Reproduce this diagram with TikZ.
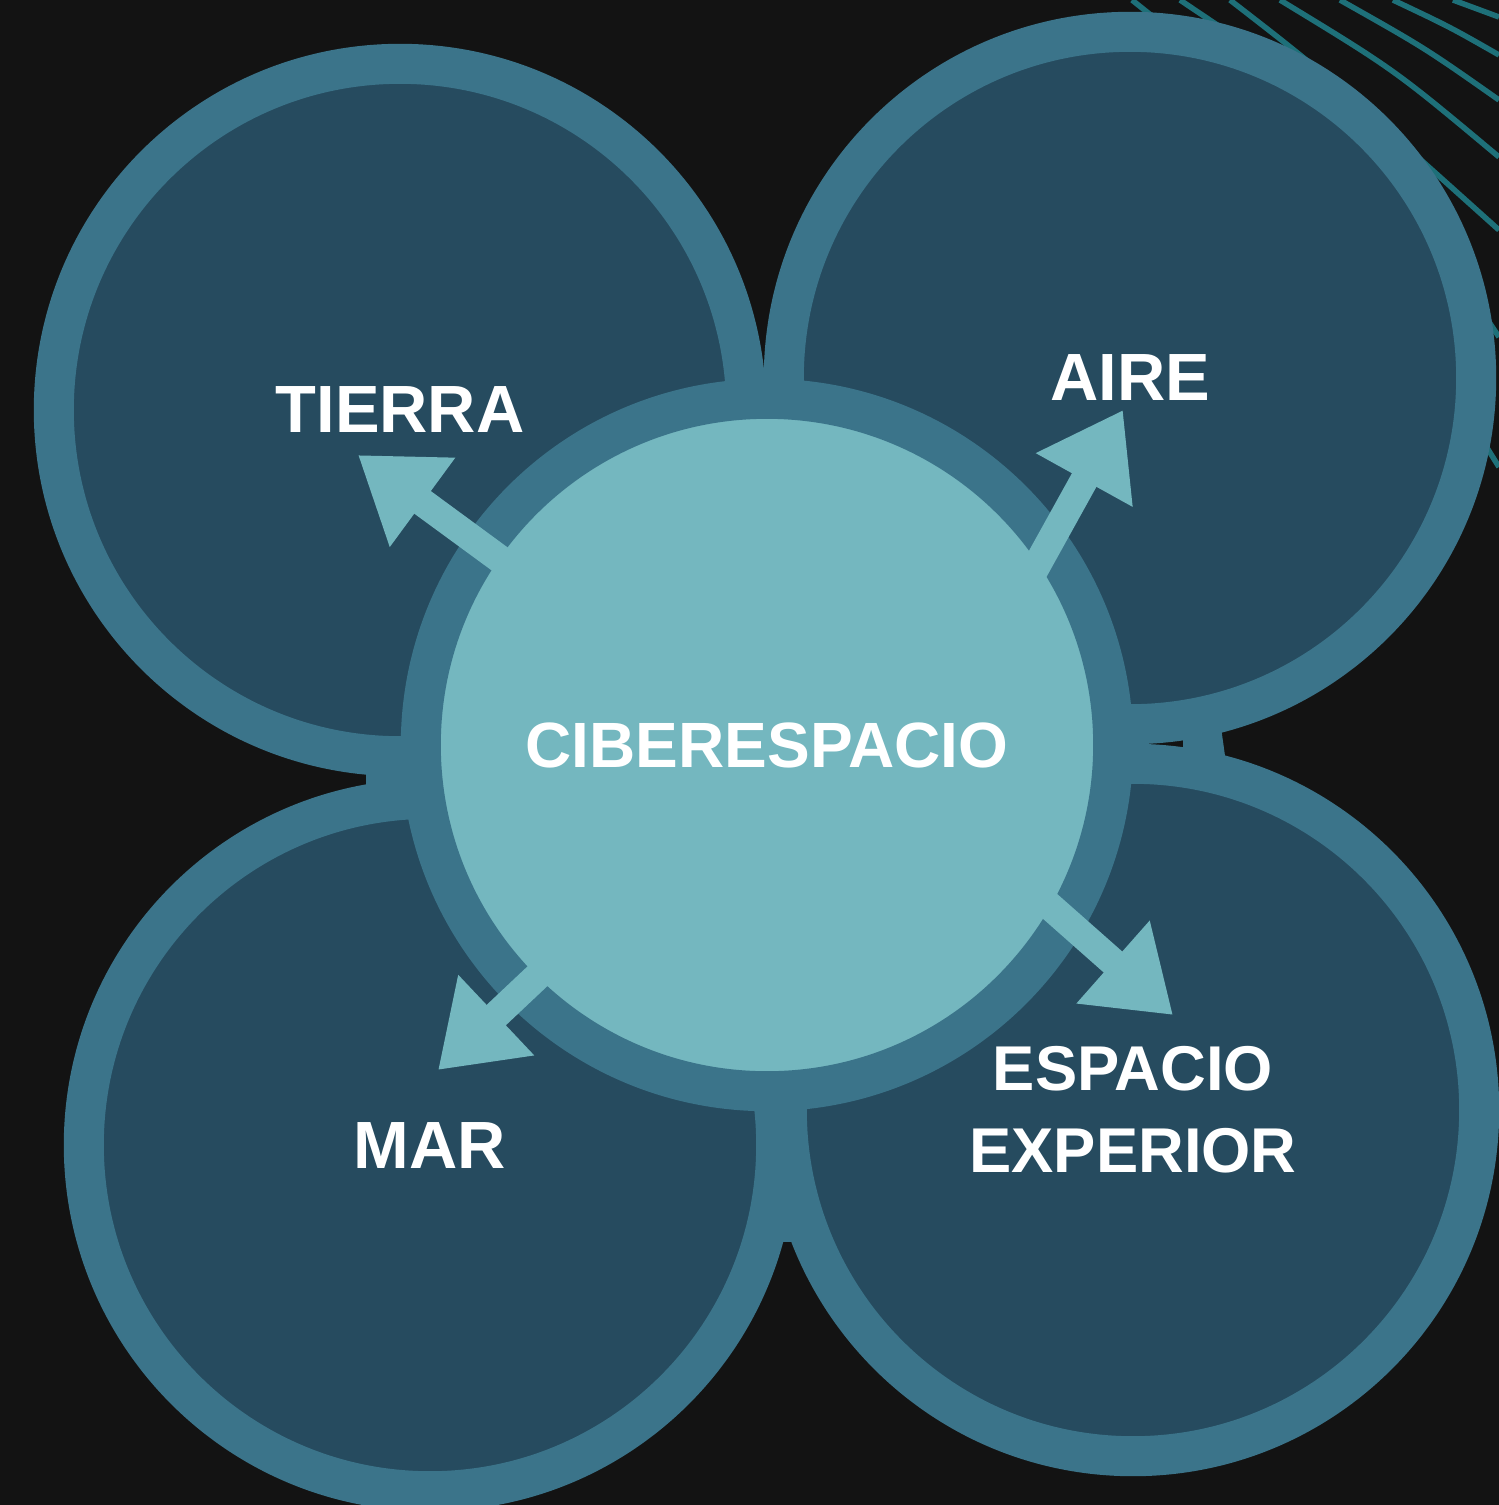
\documentclass[tikz,border=0pt]{standalone}
\usepackage{fontspec}
\setmainfont{Liberation Sans}
\usetikzlibrary{arrows.meta}

\definecolor{bgcol}{HTML}{131313}
\definecolor{ringcol}{HTML}{3B748A}
\definecolor{deepcol}{HTML}{264B5F}
\definecolor{lightcol}{HTML}{74B7BF}
\definecolor{streakcol}{HTML}{1E7079}

\tikzset{
  realm/.style={circle, draw=ringcol, fill=deepcol, line width=0.4cm,
    minimum size=6.92cm, inner sep=0pt, text=white, align=center,
    font=\bfseries\fontsize{19}{23.3}\selectfont},
  core/.style={realm, fill=lightcol, font=\bfseries\fontsize{18.2}{22}\selectfont},
  spoke/.style={draw=lightcol, line width=0.28cm,
    -{Triangle[length=0.8cm,width=1.05cm]}, shorten <=-0.6cm},
  streak/.style={draw=streakcol, line width=0.055cm}
}

\begin{document}
\begin{tikzpicture}[x=0.01cm, y=-0.01cm]
    \useasboundingbox (0,0) rectangle (1499,1505);
    \clip (0,0) rectangle (1499,1505);
    \fill[bgcol] (0,0) rectangle (1499,1505);

    % lines in the top right corner
    \draw[streak] (1132,0) .. controls (1282,120) .. (1499,467);
    \draw[streak] (1180,0) .. controls (1350,114) .. (1499,337);
    \draw[streak] (1230,0) .. controls (1323,72) .. (1499,230);
    \draw[streak] (1280,0) .. controls (1395,70) .. (1499,157);
    \draw[streak] (1340,0) .. controls (1425,48) .. (1499,100);
    \draw[streak] (1393,0) .. controls (1450,27) .. (1499,55);
    \draw[streak] (1453,0) -- (1499,17);

    % small bits between the rings
    \fill[ringcol] (366,765) -- (420,765) -- (420,795) -- (366,795) -- cycle;
    \fill[ringcol] (1183,720) -- (1220,720) -- (1227,770) -- (1183,770) -- cycle;
    \fill[ringcol] (765,1200) -- (805,1200) -- (805,1242) -- (765,1242) -- cycle;

    \node[realm] (tierra) at (400,410) {TIERRA};
    \node[realm] (aire) at (1130,378) {AIRE};
    \node[realm] (mar) at (430,1145) {MAR};
    \node[realm, font=\bfseries\fontsize{18}{23.3}\selectfont] (espacio) at (1133,1110) {ESPACIO\\EXPERIOR};
    \node[core] (cyber) at (767,745) {CIBERESPACIO};

    \coordinate (tierratip) at (358,455);
    \coordinate (airetip) at (1123,410);
    \coordinate (espaciotip) at (1173,1015);
    \coordinate (martip) at (438,1070);

    \draw[spoke] (cyber.145) -- (tierratip);
    \draw[spoke] (cyber.37) -- (airetip);
    \draw[spoke] (cyber.-31) -- (espaciotip);
    \draw[spoke] (cyber.225) -- (martip);
\end{tikzpicture}
\end{document}
